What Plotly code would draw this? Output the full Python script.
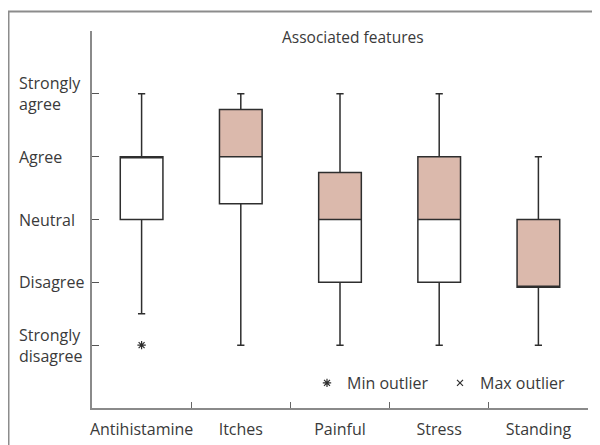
import plotly.graph_objects as go

categories = ["Antihistamine", "Itches", "Painful", "Stress", "Standing"]
lower_whisker = [1.5, 1, 1, 1, 1]
q1 = [3, 3.25, 2, 2, 1.92]
median = [4, 4, 3, 3, 1.92]
q3 = [4, 4.75, 3.75, 4, 3]
upper_whisker = [5, 5, 5, 5, 4]
min_outlier_x = ["Antihistamine"]
min_outlier_y = [1]
y_tick_vals = [1, 2, 3, 4, 5]
y_tick_text = ["Strongly<br>disagree", "Disagree", "Neutral", "Agree", "Strongly<br>agree"]

FONT = "Open Sans"
TXT = "#3a3a3a"
BROWN = "#DBB9AC"
EDGE = "#2e2e2e"
AXIS = "#8a8a8a"
FS = 16

fig = go.Figure()

# upper half (median -> Q3) filled; outline comes from the box trace on top
fig.add_trace(go.Bar(
    x=categories,
    y=[b - a for a, b in zip(median, q3)],
    base=median,
    width=0.43,
    marker=dict(color=BROWN, line=dict(width=0)),
    showlegend=False,
    hoverinfo="skip",
))

fig.add_trace(go.Box(
    x=categories,
    q1=q1,
    median=median,
    q3=q3,
    lowerfence=lower_whisker,
    upperfence=upper_whisker,
    width=0.43,
    whiskerwidth=0.17,
    fillcolor="rgba(0,0,0,0)",
    line=dict(color=EDGE, width=1.5),
    boxpoints=False,
    showlegend=False,
))

fig.add_trace(go.Scatter(
    x=min_outlier_x,
    y=min_outlier_y,
    mode="markers",
    name="Min outlier",
    marker=dict(symbol="asterisk-open", size=7, color=EDGE, line=dict(color=EDGE, width=1.2)),
))
fig.add_trace(go.Scatter(
    x=[None],
    y=[None],
    mode="markers",
    name="Max outlier",
    marker=dict(symbol="x-thin-open", size=6, color=EDGE, line=dict(color=EDGE, width=1.2)),
))

annotations = []
for v, t in zip(y_tick_vals, y_tick_text):
    annotations.append(dict(
        x=(17 - 92) / 496, xref="paper", y=v, yref="y",
        text=t, showarrow=False, xanchor="left", yanchor="middle", align="left",
        font=dict(family=FONT, size=FS, color=TXT),
    ))
annotations.append(dict(
    x=(353 - 92) / 496, xref="paper", y=(408 - 37) / 377, yref="paper",
    text="Associated features", showarrow=False, xanchor="center", yanchor="middle",
    font=dict(family=FONT, size=15.5, color=TXT),
))

fig.update_layout(
    width=592, height=437,
    margin=dict(l=84, r=12, t=23, b=37, autoexpand=False),
    paper_bgcolor="white", plot_bgcolor="white",
    font=dict(family=FONT, size=FS, color=TXT),
    showlegend=True,
    legend=dict(
        orientation="h", x=(307 - 92) / 496, y=(408 - 383) / 377,
        xanchor="left", yanchor="middle", entrywidth=88,
        bgcolor="rgba(0,0,0,0)", font=dict(family=FONT, size=FS, color=TXT),
    ),
    annotations=annotations,
    shapes=[dict(
        type="rect", xref="paper", yref="paper",
        x0=(8.5 - 92) / 496, x1=1.2, y0=-0.3, y1=(408 - 11.5) / 377,
        line=dict(color="#8c8c8c", width=2), layer="below",
    )],
    xaxis=dict(
        type="category", range=[-0.5, 4.5], tickson="boundaries",
        ticks="inside", ticklen=6, tickwidth=1.2, tickcolor="#666",
        showline=True, linecolor=AXIS, linewidth=1.5,
        showgrid=False, zeroline=False, tickangle=0, automargin=False,
        ticklabelstandoff=6,
        tickfont=dict(family=FONT, size=FS, color=TXT),
    ),
    yaxis=dict(
        range=[0, 6], tickvals=[1, 2, 3, 4, 5, 6], showticklabels=False,
        ticks="inside", ticklen=7, tickwidth=1.2, tickcolor="#555",
        showline=True, linecolor=AXIS, linewidth=1.5,
        showgrid=False, zeroline=False, automargin=False,
    ),
)

fig.write_html("out.html")
